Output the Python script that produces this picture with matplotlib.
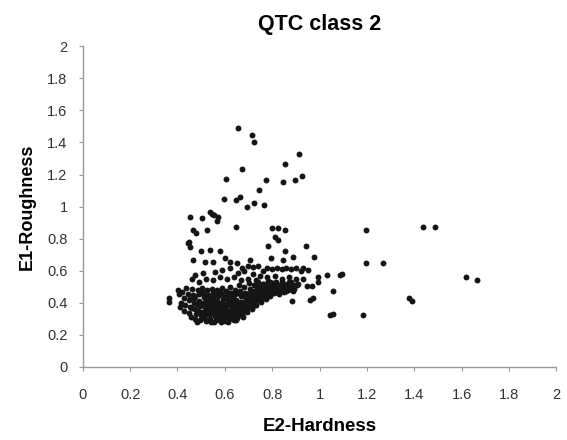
import numpy as np
import matplotlib.pyplot as plt

plt.rcParams["font.family"] = ["Liberation Sans", "DejaVu Sans"]

# sparse points (upper spread and right-hand outliers)
outer_hardness = [
    0.654, 0.713, 0.724, 0.915, 0.854, 0.674, 0.605, 0.774, 0.844, 0.895,
    0.927, 0.744, 0.596, 0.646, 0.664, 0.695, 0.724, 0.764,
    0.537, 0.554, 0.572, 0.455, 0.502, 0.545, 0.565,
    1.197, 0.466, 0.480, 0.523, 0.646, 0.798, 0.825, 0.854, 0.810, 0.825,
    0.450, 0.453, 0.445, 0.784, 0.943,
    1.436, 1.486, 1.197, 1.267, 1.094, 1.618, 1.665, 1.376, 1.390, 1.183,
    0.977, 0.929, 0.953, 0.995, 0.995, 1.033, 1.087, 0.946, 0.967, 1.056,
    0.960, 0.974, 1.044, 1.058, 0.885,
    0.854, 0.795, 0.887, 0.847,
    0.500, 0.537, 0.579, 0.466, 0.516, 0.551, 0.622, 0.586, 0.558, 0.671,
    0.657, 0.706, 0.720, 0.474, 0.509,
    0.364, 0.364,
]
outer_roughness = [
    1.490, 1.445, 1.404, 1.325, 1.265, 1.232, 1.171, 1.165, 1.155, 1.165,
    1.192, 1.103, 1.047, 1.040, 1.061, 0.995, 1.020, 1.011,
    0.968, 0.947, 0.933, 0.937, 0.926, 0.955, 0.910,
    0.854, 0.854, 0.837, 0.854, 0.874, 0.866, 0.866, 0.854, 0.810, 0.790,
    0.780, 0.750, 0.770, 0.756, 0.756,
    0.874, 0.874, 0.646, 0.646, 0.578, 0.563, 0.542, 0.428, 0.413, 0.322,
    0.683, 0.615, 0.604, 0.563, 0.531, 0.573, 0.573, 0.505, 0.505, 0.475,
    0.417, 0.428, 0.324, 0.330, 0.413,
    0.725, 0.677, 0.687, 0.667,
    0.720, 0.730, 0.725, 0.667, 0.656, 0.656, 0.656, 0.604, 0.594, 0.615,
    0.584, 0.667, 0.625, 0.573, 0.584,
    0.428, 0.407,
]

# band just above the main cluster
band_hardness = [
    0.78, 0.80, 0.82, 0.84, 0.86, 0.88, 0.90, 0.92, 0.76, 0.74, 0.70, 0.68,
    0.72, 0.75, 0.78, 0.81, 0.84, 0.87, 0.90, 0.93, 0.88, 0.91, 0.85, 0.82,
    0.79, 0.76, 0.73, 0.70, 0.67, 0.64, 0.61, 0.58, 0.55, 0.52, 0.49, 0.46,
    0.62, 0.65, 0.60,
]
band_roughness = [
    0.62, 0.61, 0.62, 0.61, 0.62, 0.61, 0.62, 0.60, 0.60, 0.63, 0.63, 0.60,
    0.58, 0.57, 0.56, 0.57, 0.55, 0.56, 0.55, 0.55, 0.53, 0.52, 0.52, 0.51,
    0.53, 0.52, 0.54, 0.55, 0.54, 0.56, 0.55, 0.56, 0.54, 0.55, 0.53, 0.55,
    0.62, 0.65, 0.68,
]

# dense cluster
core_hardness = [
    0.402, 0.408, 0.415, 0.411, 0.421, 0.426, 0.432, 0.428, 0.438, 0.443,
    0.447, 0.452, 0.449, 0.457, 0.461, 0.466, 0.471, 0.468, 0.474, 0.478,
    0.472, 0.481, 0.485, 0.489, 0.492, 0.495, 0.488, 0.498, 0.494,
    0.503, 0.507, 0.512, 0.509, 0.515, 0.518, 0.512, 0.521, 0.526, 0.531,
    0.528, 0.535, 0.533, 0.539, 0.536, 0.542,
    0.546, 0.551, 0.548, 0.556, 0.553, 0.559, 0.557, 0.562, 0.566, 0.571,
    0.568, 0.575, 0.572, 0.579, 0.576, 0.582,
    0.586, 0.589, 0.592, 0.588, 0.595, 0.598, 0.593, 0.601, 0.606, 0.609,
    0.612, 0.605, 0.615, 0.611, 0.618,
    0.622, 0.626, 0.629, 0.624, 0.632, 0.635, 0.631, 0.638, 0.642, 0.645,
    0.648, 0.644, 0.652, 0.655, 0.651,
    0.662, 0.665, 0.668, 0.664, 0.671, 0.675, 0.672, 0.682, 0.686, 0.689,
    0.685, 0.692, 0.695,
    0.701, 0.705, 0.708, 0.704, 0.712, 0.715, 0.722, 0.726, 0.729, 0.725,
    0.732,
    0.741, 0.745, 0.748, 0.744, 0.752, 0.762, 0.766, 0.769, 0.772,
    0.781, 0.785, 0.788, 0.792, 0.802, 0.806, 0.809, 0.822, 0.826, 0.829,
    0.842, 0.846, 0.849, 0.862, 0.866, 0.882, 0.886, 0.898,
    0.516, 0.524, 0.543, 0.547, 0.562, 0.566, 0.583, 0.587, 0.602, 0.604,
    0.621, 0.627, 0.641, 0.646, 0.661, 0.666, 0.678, 0.681, 0.699, 0.718,
    0.735, 0.756, 0.776, 0.796, 0.815, 0.835, 0.855, 0.875,
    0.455, 0.462, 0.476, 0.483, 0.497, 0.501, 0.505, 0.519, 0.523, 0.529,
    0.538, 0.541, 0.552, 0.555, 0.561, 0.569, 0.574, 0.581, 0.584, 0.591,
    0.596, 0.599, 0.608, 0.613, 0.617, 0.619, 0.628, 0.633, 0.636, 0.639,
    0.647, 0.649, 0.654, 0.658, 0.663, 0.667, 0.674, 0.677, 0.683, 0.688,
    0.694, 0.698, 0.703, 0.709, 0.714, 0.719, 0.728, 0.733, 0.738, 0.743,
    0.751, 0.758, 0.764, 0.771, 0.778, 0.787, 0.795, 0.804, 0.812, 0.818,
    0.832, 0.838, 0.852, 0.858, 0.869, 0.872, 0.891, 0.905,
]
core_roughness = [
    0.482, 0.452, 0.401, 0.372, 0.468, 0.431, 0.386, 0.352, 0.492, 0.458,
    0.415, 0.372, 0.338, 0.311, 0.487, 0.447, 0.428, 0.398, 0.362, 0.331,
    0.298, 0.281, 0.478, 0.452, 0.412, 0.383, 0.351, 0.322, 0.293,
    0.491, 0.462, 0.437, 0.401, 0.372, 0.343, 0.312, 0.288, 0.478, 0.451,
    0.418, 0.392, 0.357, 0.331, 0.302, 0.283,
    0.488, 0.462, 0.428, 0.405, 0.368, 0.346, 0.318, 0.292, 0.477, 0.441,
    0.412, 0.381, 0.353, 0.327, 0.301, 0.278,
    0.492, 0.458, 0.425, 0.397, 0.366, 0.338, 0.311, 0.287, 0.471, 0.443,
    0.408, 0.379, 0.352, 0.322, 0.296,
    0.501, 0.462, 0.431, 0.398, 0.371, 0.342, 0.315, 0.292, 0.482, 0.452,
    0.418, 0.389, 0.361, 0.331, 0.305,
    0.512, 0.473, 0.441, 0.408, 0.381, 0.352, 0.322, 0.498, 0.462, 0.428,
    0.398, 0.371, 0.342,
    0.521, 0.488, 0.452, 0.421, 0.392, 0.362, 0.508, 0.475, 0.441, 0.412,
    0.385,
    0.532, 0.497, 0.462, 0.432, 0.405, 0.518, 0.485, 0.452, 0.421,
    0.538, 0.502, 0.472, 0.441, 0.525, 0.492, 0.461, 0.512, 0.482, 0.455,
    0.528, 0.495, 0.468, 0.512, 0.482, 0.502, 0.472, 0.508,
    0.352, 0.331, 0.362, 0.339, 0.372, 0.334, 0.352, 0.322, 0.361, 0.331,
    0.352, 0.328, 0.342, 0.318, 0.361, 0.338, 0.372, 0.351, 0.382, 0.402,
    0.415, 0.432, 0.452, 0.465, 0.478, 0.488, 0.495, 0.492,
    0.425, 0.365, 0.445, 0.395, 0.468, 0.345, 0.305, 0.415, 0.385, 0.295,
    0.445, 0.405, 0.378, 0.282, 0.452, 0.395, 0.312, 0.465, 0.401, 0.371,
    0.292, 0.432, 0.392, 0.282, 0.462, 0.412, 0.382, 0.302, 0.442, 0.411,
    0.372, 0.292, 0.462, 0.392, 0.322, 0.455, 0.402, 0.312, 0.442, 0.382,
    0.452, 0.412, 0.372, 0.472, 0.431, 0.382, 0.462, 0.422, 0.492, 0.452,
    0.482, 0.452, 0.502, 0.472, 0.512, 0.485, 0.512, 0.472, 0.502, 0.532,
    0.502, 0.472, 0.512, 0.472, 0.498, 0.528, 0.488, 0.512,
]

ticks = [0, 0.2, 0.4, 0.6, 0.8, 1, 1.2, 1.4, 1.6, 1.8, 2]
tick_labels = ["0", "0.2", "0.4", "0.6", "0.8", "1", "1.2", "1.4", "1.6", "1.8", "2"]

hardness = np.concatenate([outer_hardness, band_hardness, core_hardness])
roughness = np.concatenate([outer_roughness, band_roughness, core_roughness])

fig = plt.figure(figsize=(5.67, 4.4), dpi=100)
ax = fig.add_axes([0.146, 0.166, 0.835, 0.729])

ax.scatter(hardness, roughness, s=18, color="#151515", marker="o", linewidths=0)

ax.set_xlim(0, 2)
ax.set_ylim(0, 2)
ax.set_xticks(ticks)
ax.set_xticklabels(tick_labels)
ax.set_yticks(ticks)
ax.set_yticklabels(tick_labels)

for side in ["top", "right"]:
    ax.spines[side].set_visible(False)
for side in ["left", "bottom"]:
    ax.spines[side].set_color("#999999")
    ax.spines[side].set_linewidth(1.0)

ax.tick_params(axis="both", direction="out", length=3, color="#999999",
               labelsize=10.5, labelcolor="#333333")
ax.tick_params(axis="x", pad=12)
ax.tick_params(axis="y", pad=8)

ax.set_title("QTC class 2", fontsize=15.5, fontweight="bold", pad=12)
ax.set_xlabel("E2-Hardness", fontsize=13.5, fontweight="bold", labelpad=12)
ax.set_ylabel("E1-Roughness", fontsize=13, fontweight="bold", labelpad=8)

fig.savefig("out.png", dpi=100)
